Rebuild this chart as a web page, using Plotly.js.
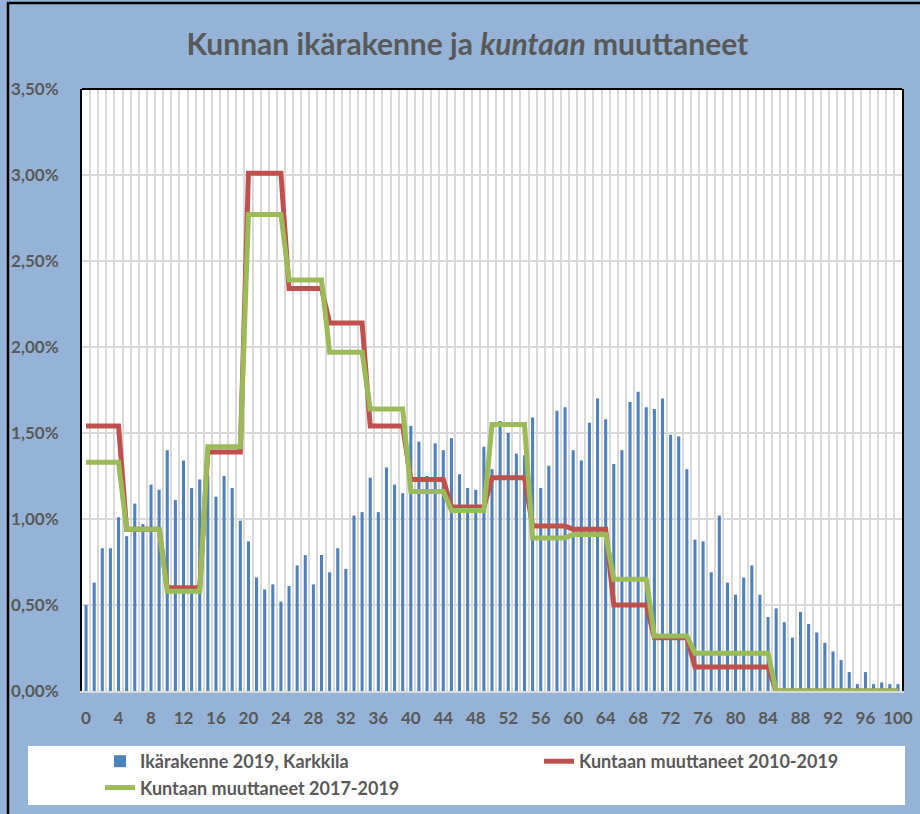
<!DOCTYPE html>
<html>
<head>
<meta charset="utf-8">
<script src="https://cdn.plot.ly/plotly-3.0.1.min.js"></script>
<style>
html,body{margin:0;padding:0;background:#95b3d7;}
#chart{width:920px;height:814px;}
</style>
</head>
<body>
<div id="chart"></div>
<script>
var ages = [0,1,2,3,4,5,6,7,8,9,10,11,12,13,14,15,16,17,18,19,20,21,22,23,24,25,26,27,28,29,30,31,32,33,34,35,36,37,38,39,40,41,42,43,44,45,46,47,48,49,50,51,52,53,54,55,56,57,58,59,60,61,62,63,64,65,66,67,68,69,70,71,72,73,74,75,76,77,78,79,80,81,82,83,84,85,86,87,88,89,90,91,92,93,94,95,96,97,98,99,100];

var ikarakenne2019 = [0.50,0.63,0.83,0.83,1.01,0.90,1.09,0.97,1.20,1.17,
1.40,1.11,1.34,1.18,1.23,1.25,1.13,1.25,1.18,0.99,
0.87,0.66,0.59,0.62,0.52,0.61,0.73,0.79,0.62,0.79,
0.69,0.83,0.71,1.02,1.04,1.24,1.04,1.30,1.20,1.15,
1.54,1.45,1.25,1.44,1.40,1.47,1.26,1.18,1.17,1.42,
1.29,1.57,1.50,1.38,1.37,1.59,1.18,1.31,1.63,1.65,
1.40,1.34,1.56,1.70,1.58,1.32,1.40,1.68,1.74,1.65,
1.64,1.70,1.49,1.48,1.29,0.88,0.87,0.69,1.02,0.63,
0.56,0.66,0.73,0.56,0.43,0.48,0.40,0.31,0.46,0.39,
0.34,0.28,0.23,0.18,0.11,0.04,0.11,0.04,0.05,0.04,0.04];

var muuttaneet2010_2019 = [1.54,1.54,1.54,1.54,1.54,0.94,0.94,0.94,0.94,0.94,
0.60,0.60,0.60,0.60,0.60,1.39,1.39,1.39,1.39,1.39,
3.01,3.01,3.01,3.01,3.01,2.34,2.34,2.34,2.34,2.34,
2.14,2.14,2.14,2.14,2.14,1.54,1.54,1.54,1.54,1.54,
1.23,1.23,1.23,1.23,1.23,1.07,1.07,1.07,1.07,1.07,
1.24,1.24,1.24,1.24,1.24,0.96,0.96,0.96,0.96,0.96,
0.94,0.94,0.94,0.94,0.94,0.50,0.50,0.50,0.50,0.50,
0.31,0.31,0.31,0.31,0.31,0.14,0.14,0.14,0.14,0.14,
0.14,0.14,0.14,0.14,0.14,0,0,0,0,0,
0,0,0,0,0,0,0,0,0,0,0];

var muuttaneet2017_2019 = [1.33,1.33,1.33,1.33,1.33,0.94,0.94,0.94,0.94,0.94,
0.58,0.58,0.58,0.58,0.58,1.42,1.42,1.42,1.42,1.42,
2.77,2.77,2.77,2.77,2.77,2.39,2.39,2.39,2.39,2.39,
1.97,1.97,1.97,1.97,1.97,1.64,1.64,1.64,1.64,1.64,
1.16,1.16,1.16,1.16,1.16,1.05,1.05,1.05,1.05,1.05,
1.55,1.55,1.55,1.55,1.55,0.89,0.89,0.89,0.89,0.89,
0.91,0.91,0.91,0.91,0.91,0.65,0.65,0.65,0.65,0.65,
0.32,0.32,0.32,0.32,0.32,0.22,0.22,0.22,0.22,0.22,
0.22,0.22,0.22,0.22,0.22,0,0,0,0,0,
0,0,0,0,0,0,0,0,0,0,0];

var xTicks = [0,4,8,12,16,20,24,28,32,36,40,44,48,52,56,60,64,68,72,76,80,84,88,92,96,100];

var names = ['Ikärakenne 2019, Karkkila','Kuntaan muuttaneet 2010-2019','Kuntaan muuttaneet 2017-2019'];

var textColor = '#595959';
var fontFam = 'Lato, "Open Sans", sans-serif';
var legFont = {family:fontFam, size:18, color:textColor, weight:'bold'};

var traces = [
  {type:'bar', x:ages, y:ikarakenne2019, name:names[0], marker:{color:'#4f81bd'}, legend:'legend'},
  {type:'scatter', mode:'lines', x:ages, y:muuttaneet2010_2019, name:names[1], line:{color:'#c0504d', width:5}, legend:'legend2'},
  {type:'scatter', mode:'lines', x:ages, y:muuttaneet2017_2019, name:names[2], line:{color:'#9bbb59', width:5}, legend:'legend'}
];

var legY = (691-743)/602;

var layout = {
  width:920, height:814,
  paper_bgcolor:'#95b3d7',
  plot_bgcolor:'#ffffff',
  separators:',.',
  margin:{l:82, r:18, t:89, b:123, autoexpand:false},
  font:{family:fontFam, color:textColor, size:15},
  title:{text:'<b>Kunnan ikärakenne ja <i>kuntaan</i> muuttaneet</b>', font:{family:fontFam, size:30, color:textColor}, x:0.508, xanchor:'center', y:1-44/814, yanchor:'middle', yref:'container'},
  bargap:0.62,
  showlegend:true,
  legend:{orientation:'v', x:(100-82)/820, xanchor:'left', y:legY, yanchor:'top', bgcolor:'rgba(0,0,0,0)', font:legFont, tracegroupgap:0},
  legend2:{orientation:'v', x:(539-82)/820, xanchor:'left', y:legY, yanchor:'top', bgcolor:'rgba(0,0,0,0)', font:legFont},
  xaxis:{type:'linear', range:[-0.5,100.5], tickmode:'array', tickvals:xTicks, ticktext:xTicks.map(String), showgrid:false, zeroline:false,
    showline:true, linecolor:'#d9d9d9', linewidth:2, ticks:'', ticklabelstandoff:11,
    tickfont:{family:fontFam, size:17, color:textColor, weight:'bold'},
    minor:{tick0:0.5, dtick:1, showgrid:true, gridcolor:'#d9d9d9', gridwidth:2, ticks:''}},
  yaxis:{range:[0,3.5], dtick:0.5, tick0:0, tickformat:'.2f', ticksuffix:'%', showgrid:true, gridcolor:'#d9d9d9', gridwidth:1.5, zeroline:false,
    showline:true, linecolor:'#000000', linewidth:2, mirror:true, ticks:'', ticklabelstandoff:18,
    tickfont:{family:fontFam, size:17, color:textColor, weight:'bold'}},
  shapes:[
    {type:'line', xref:'paper', yref:'paper', x0:0, x1:1, y0:1, y1:1, line:{color:'#000000', width:2}},
    {type:'rect', xref:'paper', yref:'paper', x0:(28-82)/820, x1:(905-82)/820, y0:(691-805)/602, y1:(691-746)/602, fillcolor:'#ffffff', line:{width:0}, layer:'below'},
    {type:'rect', xref:'paper', yref:'paper', x0:(8-82)/820, x1:(930-82)/820, y0:(691-830)/602, y1:(691-3)/602, fillcolor:'rgba(0,0,0,0)', line:{color:'#000000', width:2.5}, layer:'above'}
  ]
};

Plotly.newPlot('chart', traces, layout, {displayModeBar:false, staticPlot:true});
</script>
</body>
</html>
